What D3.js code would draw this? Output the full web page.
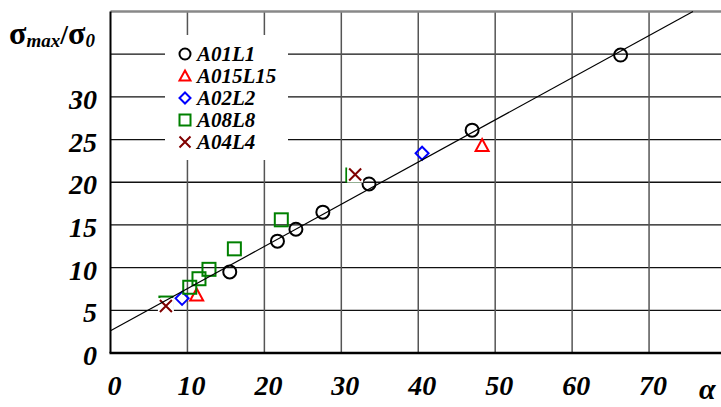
<!DOCTYPE html>
<html>
<head>
<meta charset="utf-8">
<script src="https://cdn.jsdelivr.net/npm/d3@7"></script>
<style>
  body { margin: 0; background: #fff; }
  text { font-family: "Liberation Serif", "Times New Roman", serif; font-weight: bold; font-style: italic; }
</style>
</head>
<body>
<svg id="chart" width="721" height="407"></svg>
<script>
// data
var xTicks = [0, 10, 20, 30, 40, 50, 60, 70];
var yTicks = [0, 5, 10, 15, 20, 25, 30];
var yGrid = [5, 10, 15, 20, 25, 30, 35];
var seriesNames = ["A01L1", "A015L15", "A02L2", "A08L8", "A04L4"];

var a01L1 = [[66.3, 34.9], [47.0, 26.1], [33.6, 19.8], [27.6, 16.5], [24.1, 14.5], [21.7, 13.1], [15.5, 9.5]];
var a015L15 = [[48.3, 24.3], [11.2, 6.8]];
var a02L2 = [[40.5, 23.4], [9.3, 6.4]];
var a08L8 = [[22.2, 15.6], [16.1, 12.2], [12.8, 9.8], [11.5, 8.7], [10.3, 7.7], [7.2, 5.85], [31.5, 20.85]];
var a04L4 = [[7.2, 5.5], [31.8, 20.9]];

// straight fit line  y = b + k*x
var fitB = 2.6, fitK = 0.494;

var svg = d3.select("#chart");
var x = d3.scaleLinear().domain([0, 80]).range([110.5, 726]);
var y = d3.scaleLinear().domain([0, 40]).range([353, 11.5]);

var g = svg.append("g");

// grid
g.selectAll(".hgrid").data(yGrid).enter().append("line")
  .attr("x1", x(0)).attr("x2", 721)
  .attr("y1", function(d) { return y(d); }).attr("y2", function(d) { return y(d); })
  .attr("stroke", "#111").attr("stroke-width", 1.3);
g.selectAll(".vgrid").data(xTicks.slice(1)).enter().append("line")
  .attr("x1", function(d) { return x(d); }).attr("x2", function(d) { return x(d); })
  .attr("y1", y(40)).attr("y2", y(0))
  .attr("stroke", "#555").attr("stroke-width", 1.5);
// frame
g.append("line").attr("x1", x(0)).attr("x2", 721).attr("y1", y(40)).attr("y2", y(40))
  .attr("stroke", "#888").attr("stroke-width", 2.5);
g.append("line").attr("x1", x(0)).attr("x2", x(0)).attr("y1", y(40)).attr("y2", y(0))
  .attr("stroke", "#000").attr("stroke-width", 2);
g.append("line").attr("x1", x(0) - 1).attr("x2", 721).attr("y1", y(0)).attr("y2", y(0))
  .attr("stroke", "#000").attr("stroke-width", 2.5);

// tick labels
svg.selectAll(".ylab").data(yTicks).enter().append("text")
  .attr("x", 97).attr("y", function(d) { return y(d) + 12; })
  .attr("text-anchor", "end").attr("font-size", 28)
  .text(function(d) { return d; });
svg.selectAll(".xlab").data(xTicks).enter().append("text")
  .attr("x", function(d) { return x(d) + 4; }).attr("y", 395)
  .attr("text-anchor", "middle").attr("font-size", 28)
  .text(function(d) { return d; });

// axis titles
svg.append("text").attr("x", 699).attr("y", 399).attr("font-size", 30)
  .attr("font-family", "DejaVu Serif").text("α");
var yt = svg.append("text").attr("x", 9).attr("y", 44).attr("font-size", 32);
yt.append("tspan").style("font-style", "normal").text("σ");
yt.append("tspan").attr("font-size", 19).attr("dy", 3).text("max");
yt.append("tspan").attr("font-size", 28).attr("dy", -3).style("font-style", "normal").text("/");
yt.append("tspan").style("font-style", "normal").text("σ");
yt.append("tspan").attr("font-size", 19).attr("dy", 3).text("0");

// marker shapes
function drawMarks(sel, kind, color, s) {
  if (kind == "circle") {
    sel.append("circle").attr("r", s / 2).attr("fill", "none").attr("stroke", color).attr("stroke-width", 2);
  } else if (kind == "triangle") {
    sel.append("path").attr("d", "M0," + (-s / 2) + "L" + (s / 2) + "," + (s / 2 - 1) + "L" + (-s / 2) + "," + (s / 2 - 1) + "Z")
      .attr("fill", "none").attr("stroke", color).attr("stroke-width", 2);
  } else if (kind == "diamond") {
    sel.append("path").attr("d", "M0," + (-s / 2) + "L" + (s / 2) + ",0L0," + (s / 2) + "L" + (-s / 2) + ",0Z")
      .attr("fill", "none").attr("stroke", color).attr("stroke-width", 2);
  } else if (kind == "square") {
    sel.append("rect").attr("x", -s / 2).attr("y", -s / 2).attr("width", s).attr("height", s)
      .attr("fill", "none").attr("stroke", color).attr("stroke-width", 2);
  } else if (kind == "cross") {
    sel.append("path").attr("d", "M" + (-s / 2) + "," + (-s / 2) + "L" + (s / 2) + "," + (s / 2) + "M" + (s / 2) + "," + (-s / 2) + "L" + (-s / 2) + "," + (s / 2))
      .attr("fill", "none").attr("stroke", color).attr("stroke-width", 2);
  }
}

var seriesData = [a01L1, a015L15, a02L2, a08L8, a04L4];
var kinds = ["circle", "triangle", "diamond", "square", "cross"];
var colors = ["#000000", "#ff0000", "#0000ff", "#008000", "#800000"];

seriesData.forEach(function(pts, i) {
  var grp = g.selectAll(".m" + i).data(pts).enter().append("g")
    .attr("transform", function(d) { return "translate(" + x(d[0]) + "," + y(d[1]) + ")"; });
  if (kinds[i] == "cross") {
    grp.append("rect").attr("x", -8).attr("y", -8).attr("width", 16).attr("height", 16).attr("fill", "#fff");
  }
  drawMarks(grp, kinds[i], colors[i], kinds[i] == "cross" ? 12 : 13);
});

// fit line
var xEnd = (40 - fitB) / fitK;
g.append("line")
  .attr("x1", x(0)).attr("y1", y(fitB))
  .attr("x2", x(xEnd)).attr("y2", y(fitB + fitK * xEnd))
  .attr("stroke", "#000").attr("stroke-width", 1.2);

// legend
var lg = svg.append("g");
lg.append("rect").attr("x", 165).attr("y", 35).attr("width", 123).attr("height", 125).attr("fill", "#fff");
var item = lg.selectAll(".item").data(seriesNames).enter().append("g")
  .attr("transform", function(d, i) { return "translate(185," + (54 + i * 22) + ")"; });
item.each(function(d, i) { drawMarks(d3.select(this), kinds[i], colors[i], 11); });
item.append("text").attr("x", 12).attr("y", 7).attr("font-size", 21).text(function(d) { return d; });
</script>
</body>
</html>
